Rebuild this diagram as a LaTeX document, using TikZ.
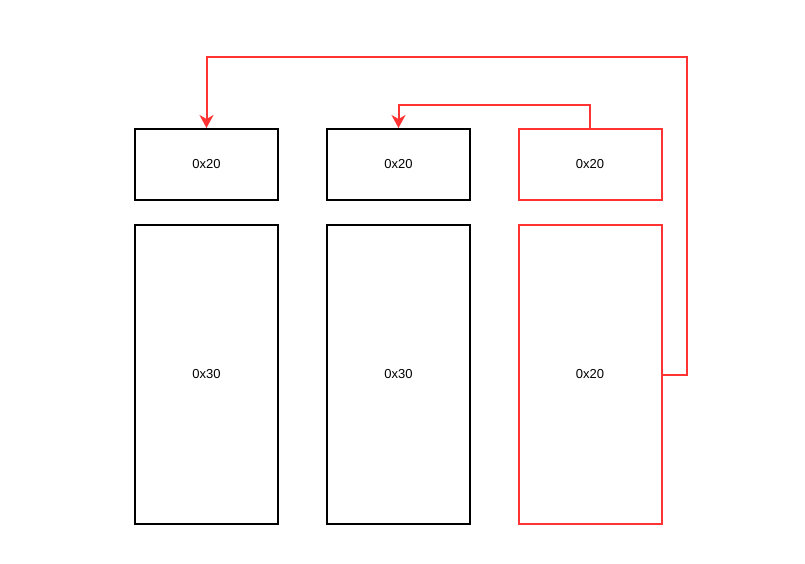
\documentclass[tikz,border=0pt]{standalone}
\usepackage{fontspec}
\setmainfont{Liberation Sans}
\usetikzlibrary{positioning}
\usetikzlibrary{arrows.meta}
\definecolor{hotred}{HTML}{FF3333}
\tikzset{
    slot/.style = {rectangle, draw=black, line width=2pt, inner sep=0pt, minimum width=143pt, font=\fontsize{13}{15}\selectfont},
    hdr/.style = {slot, minimum height=71pt},
    body/.style = {slot, minimum height=299pt},
    hot/.style = {draw=hotred},
    link/.style = {-{Stealth[length=13pt,width=14pt,inset=4pt]}, line width=2pt, hotred}, % jump
}

\begin{document}
\begin{tikzpicture}[x=1pt,y=-1pt]
  \useasboundingbox (0,0) rectangle (805,564);

  \node[hdr] (topA) at (206.5,164.5) {0x20};
  \node[hdr] (topB) at (398.5,164.5) {0x20};
  \node[hdr,hot] (topC) at (590,164.5) {0x20};

  \node[body] (bigA) at (206.5,374.5) {0x30};
  \node[body] (bigB) at (398.5,374.5) {0x30};
  \node[body,hot] (bigC) at (590,374.5) {0x20};

  \coordinate (turnA) at (206.5,57);
  \coordinate (turnB) at (398.5,105);

  \draw[link] (bigC.east) -- ++(24,0) |- (turnA) -- (topA.north);
  \draw[link] (topC.north) |- (turnB) -- (topB.north);
\end{tikzpicture}
\end{document}
